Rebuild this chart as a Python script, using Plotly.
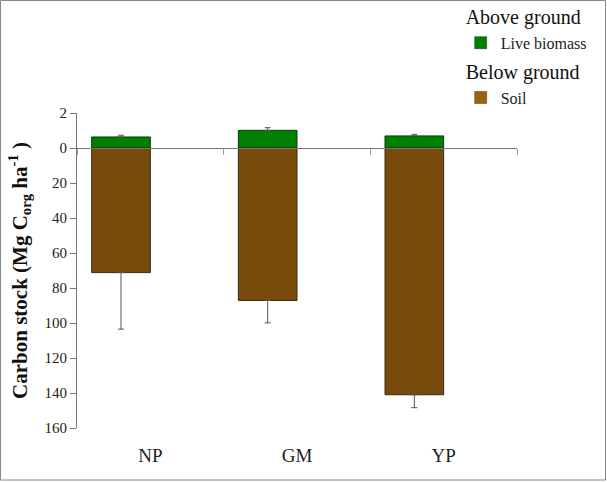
import plotly.graph_objects as go

# ---- data ----
sites = ["NP", "GM", "YP"]
live_biomass = [0.63, 1.01, 0.69]          # Mg C ha-1 (above ground)
live_biomass_err = [0.10, 0.15, 0.09]
soil = [71.2, 87.1, 141.0]                 # Mg C ha-1 (below ground)
soil_err = [32.3, 12.8, 7.4]
tick_values = [2, 0, 20, 40, 60, 80, 100, 120, 140, 160]

ABOVE_SCALE = 10  # above-ground axis segment is stretched 10x in the original

GREEN = "#008000"
BROWN = "#784A0C"
BROWN_LEGEND = "#976310"
FONT = "Liberation Serif"

fig = go.Figure()
fig.add_trace(go.Bar(
    x=sites, y=[v * ABOVE_SCALE for v in live_biomass], base=0,
    name="Live biomass", showlegend=False,
    marker=dict(color=GREEN, line=dict(color="#0a3a0a", width=1)),
    error_y=dict(type="data", symmetric=False,
                 array=[e * ABOVE_SCALE for e in live_biomass_err],
                 arrayminus=[0] * len(sites), color="#555", thickness=1, width=3),
    width=0.4, offsetgroup="a",
))
fig.add_trace(go.Bar(
    x=sites, y=[-v for v in soil], base=0,
    name="Soil", showlegend=False,
    marker=dict(color=BROWN, line=dict(color="#3a2a10", width=1)),
    error_y=dict(type="data", symmetric=False, array=[0] * len(sites),
                 arrayminus=soil_err, color="#555", thickness=1, width=3),
    width=0.4, offsetgroup="a",
))

# legend entries (legend swatches are a lighter shade in the original)
title_font = dict(size=20, family=FONT, color="#111")
fig.add_trace(go.Bar(
    x=[sites[0]], y=[None], name="Live biomass", legendgroup="above",
    legendgrouptitle=dict(text="Above ground", font=title_font),
    marker=dict(color=GREEN, line=dict(color="#0a3a0a", width=0.5)),
    hoverinfo="skip",
))
fig.add_trace(go.Bar(
    x=[sites[0]], y=[None], name="Soil", legendgroup="below",
    legendgrouptitle=dict(text="Below ground", font=title_font),
    marker=dict(color=BROWN_LEGEND, line=dict(color="#5a3a08", width=0.5)),
    hoverinfo="skip",
))

# zero line axis with boundary ticks
fig.add_trace(go.Scatter(x=sites, y=[None] * 3, xaxis="x2", showlegend=False,
                         hoverinfo="skip"))

tickvals = [v * ABOVE_SCALE if i == 0 else -v for i, v in enumerate(tick_values)]
ticktext = [str(v) for v in tick_values]

fig.update_layout(
    width=607, height=482,
    paper_bgcolor="white", plot_bgcolor="white",
    margin=dict(l=77, r=90, t=113, b=54, autoexpand=False),
    barmode="overlay",
    font=dict(family=FONT, color="#222"),
    showlegend=True,
    legend=dict(x=0.872, y=1.369, xanchor="left", yanchor="top",
                font=dict(size=16, family=FONT, color="#222"),
                tracegroupgap=2, bgcolor="rgba(0,0,0,0)"),
    xaxis=dict(showline=False, ticks="outside", ticklen=10, tickcolor="rgba(0,0,0,0)",
               tickfont=dict(size=19, family=FONT, color="#222"), showgrid=False,
               zeroline=False, automargin=False),
    xaxis2=dict(overlaying="x", anchor="free", position=160 / 180, side="bottom",
                showline=True, linecolor="#777", linewidth=1, ticks="outside",
                tickson="boundaries", ticklen=6, tickcolor="#999",
                showticklabels=False, showgrid=False, zeroline=False,
                matches="x", automargin=False),
    yaxis=dict(range=[-160, 20], tickvals=tickvals, ticktext=ticktext,
               showline=True, linecolor="#777", linewidth=1, ticks="outside",
               ticklen=6, tickcolor="#777", showgrid=False, zeroline=False,
               automargin=False,
               tickfont=dict(size=15, family=FONT, color="#222"),
               title=dict(text="Carbon stock (Mg C<sub>org</sub> ha<sup>-1</sup> )",
                          font=dict(size=21, family=FONT, color="#111"),
                          standoff=11)),
    shapes=[dict(type="rect", xref="paper", yref="paper",
                 x0=-76.5 / 440, x1=(607 - 77 - 1.5) / 440,
                 y0=-(54 - 2) / 315, y1=1 + (113 - 0.5) / 315,
                 line=dict(color="#888", width=1), layer="below")],
)
fig.update_yaxes(title_font_weight="bold")

fig.write_html("out.html", config={"displayModeBar": False},
               post_script="document.body.style.margin='0';document.body.style.padding='0';")
